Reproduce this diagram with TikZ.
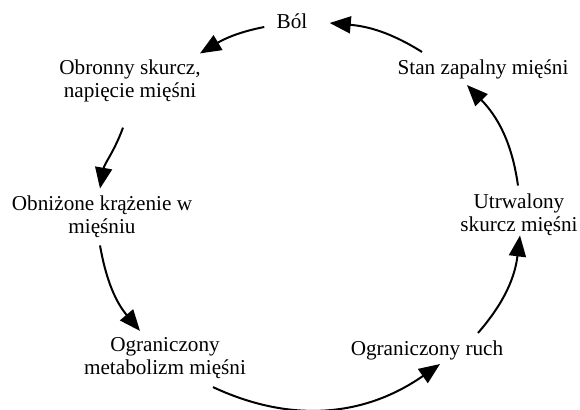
\documentclass[tikz,border=0pt]{standalone}
\usepackage{fontspec}
\setmainfont{Liberation Serif}
\usetikzlibrary{arrows.meta,positioning}
\tikzset{
  cyclelabel/.style={inner sep=0pt,align=center,font=\fontsize{10.6}{11.6}\selectfont},
  cyclearrow/.style={-{Triangle[length=10.5pt,width=8.5pt]},line width=1pt,draw=black},
}

\begin{document}
\begin{tikzpicture}[x=0.5pt,y=0.5pt]
  \useasboundingbox (0,0) rectangle (580,409);
  % labels round the cycle
  \node[cyclelabel] (bol)  at (292,388) {Ból};
  \node[cyclelabel] (obr)  at (130,328) {Obronny skurcz,\\napięcie mięśni};
  \node[cyclelabel] (obn)  at (102,192) {Obniżone krążenie w\\mięśniu};
  \node[cyclelabel] (met)  at (165,51)  {Ograniczony\\metabolizm mięśni};
  \node[cyclelabel] (ruch) at (427,59)  {Ograniczony ruch};
  \node[cyclelabel] (utr)  at (519,194) {Utrwalony\\skurcz mięśni};
  \node[cyclelabel] (stan) at (483,340) {Stan zapalny mięśni};
  % arrows
  \draw[cyclearrow] ([xshift=-6pt,yshift=-3pt]bol.west) to[out=191,in=31] ([xshift=-0.5pt,yshift=3pt]obr.north east);
  \draw[cyclearrow] ([xshift=-3.5pt,yshift=-12.5pt]obr.south) to[out=250,in=80] ([xshift=-1pt,yshift=3.5pt]obn.north);
  \draw[cyclearrow] ([xshift=-1pt,yshift=-3.5pt]obn.south) to[out=280,in=130] ([xshift=-12.5pt,yshift=3pt]met.north);
  \draw[cyclearrow] ([xshift=24pt,yshift=-4pt]met.south) to[out=-25,in=215] ([xshift=6.5pt,yshift=-2pt]ruch.south);
  \draw[cyclearrow] ([xshift=25.5pt,yshift=3.5pt]ruch.north) to[out=49,in=263] ([xshift=0.5pt,yshift=0.5pt]utr.south);
  \draw[cyclearrow] ([xshift=-0.5pt,yshift=4pt]utr.north) to[out=98,in=314] ([xshift=-8pt,yshift=-3pt]stan.south);
  \draw[cyclearrow] ([xshift=-30.5pt,yshift=3.5pt]stan.north) to[out=148,in=355] ([xshift=11pt,yshift=-1pt]bol.east);
\end{tikzpicture}
\end{document}
